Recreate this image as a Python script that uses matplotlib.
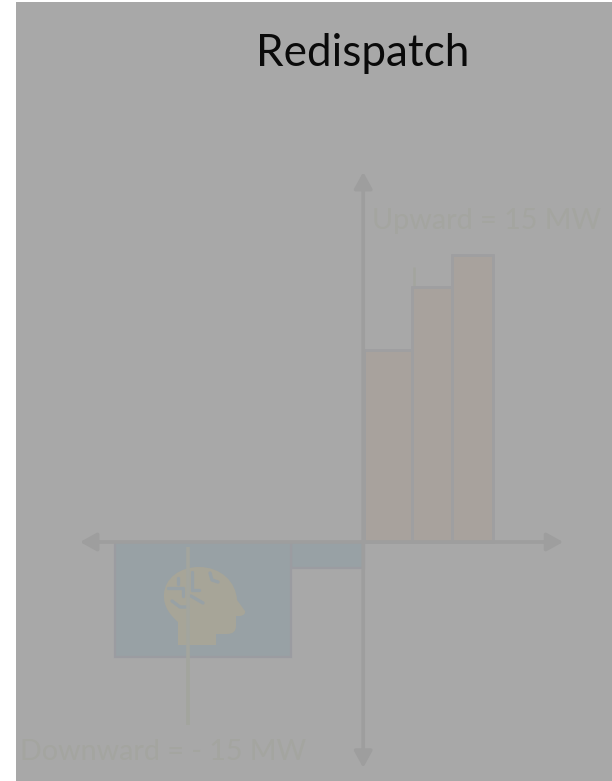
import matplotlib.pyplot as plt
from matplotlib.patches import PathPatch, Rectangle
from matplotlib.path import Path
from matplotlib.transforms import Affine2D

plt.rcParams['font.family'] = ['Lato', 'DejaVu Sans']

W, H = 612, 781
BG = '#a8a8a8'
TEXT_DIM = '#a4a5a0'

# redispatch blocks, in MW, with edges along the time axis
up_edges = [0.0, 1.2, 2.2, 3.22]
up_mw = [10.05, 13.35, 15.0]
down_edges = [0.0, -1.83, -6.22]
down_mw = [-1.36, -6.0]

fig = plt.figure(figsize=(W / 100, H / 100), dpi=100, facecolor='white')
fig.add_artist(Rectangle((16 / W, 0), 1 - 16 / W, 1 - 2 / H, transform=fig.transFigure,
                         facecolor=BG, edgecolor='none', zorder=-5))

ax = fig.add_axes([0, 0, 1, 1])
ax.patch.set_alpha(0)
ax.set_axis_off()
# 40 px per time unit, 19.13 px per MW, origin of the chart at (364, 542)
ax.set_xlim(-364 / 40, (W - 364) / 40)
ax.set_ylim((542 - H) / 19.13, 542 / 19.13)

for i, v in enumerate(up_mw):
    ax.bar(up_edges[i], v, width=up_edges[i + 1] - up_edges[i], align='edge',
           facecolor='#a8a29d', edgecolor='#9f9fa1', linewidth=2.0, zorder=2)
for i, v in enumerate(down_edges[:-1]):
    ax.bar(v, down_mw[i], width=down_edges[i + 1] - v, align='edge',
           facecolor='#98a1a5', edgecolor='#9b9ca1', linewidth=1.6, zorder=2)

# head icon, drawn in pixel space
px = Affine2D().scale(1, -1).translate(0, H)
head = [
    (Path.MOVETO, (178, 645)), (Path.LINETO, (178, 622)),
    (Path.CURVE4, (170, 615)), (Path.CURVE4, (163, 606)), (Path.CURVE4, (164, 594)),
    (Path.CURVE4, (165, 578)), (Path.CURVE4, (180, 567)), (Path.CURVE4, (199, 567)),
    (Path.CURVE4, (221, 567)), (Path.CURVE4, (236, 582)), (Path.CURVE4, (237, 600)),
    (Path.LINETO, (245, 611)), (Path.CURVE3, (246, 615)), (Path.CURVE3, (240, 616)),
    (Path.LINETO, (236, 616)), (Path.LINETO, (236, 626)),
    (Path.CURVE3, (236, 634)), (Path.CURVE3, (227, 634)),
    (Path.LINETO, (216, 634)), (Path.LINETO, (216, 645)), (Path.CLOSEPOLY, (178, 645)),
]
codes, verts = zip(*head)
ax.add_patch(PathPatch(Path(verts, codes), transform=px, facecolor='#a7a598',
                       edgecolor='none', zorder=3))

traces = [
    [(168, 588), (183, 588), (183, 596)],
    [(178, 578), (178, 584)],
    [(192, 572), (192, 590), (199, 590)],
    [(191, 596), (203, 603)],
    [(172, 601), (180, 607), (188, 607)],
    [(210, 573), (212, 580), (218, 582)],
]
for t in traces:
    xs, ys = zip(*t)
    ax.plot(xs, ys, transform=px, color='#98a1a5', lw=2.4, zorder=4,
            solid_capstyle='round', solid_joinstyle='round')

ax.plot([-4.4, -4.4], [-0.26, -9.57], color='#a3a59e', lw=2.6, zorder=5, solid_capstyle='butt')
ax.plot([1.25, 1.25], [0, 14.4], color='#a3a59e', lw=1.8, zorder=1.5, solid_capstyle='butt')

# axes with arrow heads at both ends
arrow = dict(arrowstyle='<|-|>,head_length=1.0,head_width=0.55', color='#9e9e9e', lw=2.6,
             shrinkA=0, shrinkB=0)
ax.annotate('', xy=(-7.1, 0), xytext=(4.98, 0), arrowprops=arrow, zorder=6)
ax.annotate('', xy=(-0.02, 19.34), xytext=(-0.02, -11.8), arrowprops=arrow, zorder=6)

ax.text(-1 / 40, (542 - 54) / 19.13, 'Redispatch', fontsize=31.7, color='#0a0a0a',
        ha='center', va='center')
ax.text((372 - 364) / 40, (542 - 221) / 19.13, 'Upward = 15 MW', fontsize=20.7, color=TEXT_DIM,
        ha='left', va='center')
ax.text((20 - 364) / 40, (542 - 752) / 19.13, 'Downward = - 15 MW', fontsize=20.6, color=TEXT_DIM,
        ha='left', va='center')

fig.savefig('out.png', dpi=100)
